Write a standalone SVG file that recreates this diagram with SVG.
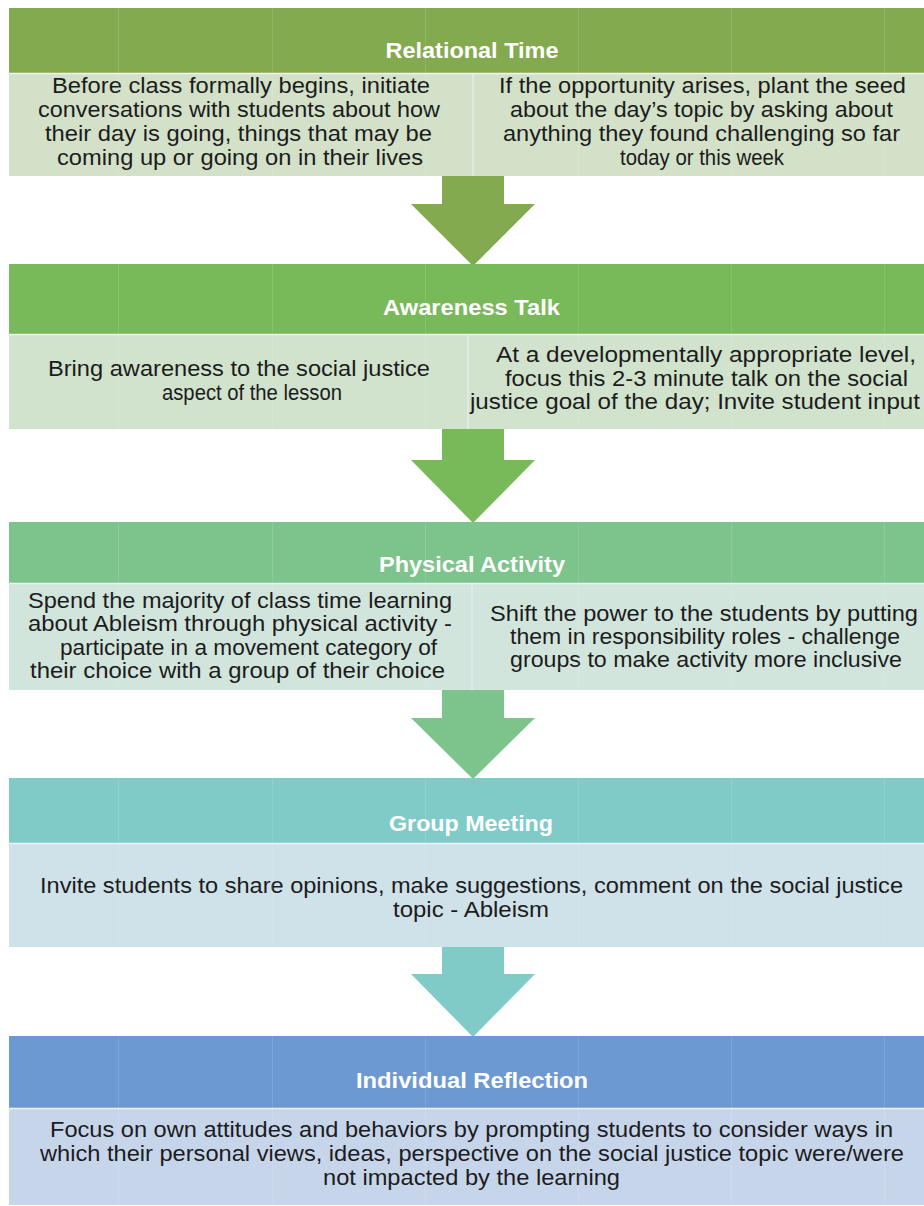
<svg xmlns="http://www.w3.org/2000/svg" width="924" height="1206" viewBox="0 0 924 1206">
  <style>
    .hd { font-family: "Liberation Sans", Arial, sans-serif; font-size: 22px; font-weight: bold; fill: #ffffff; text-anchor: middle; }
    .tx { font-family: "Liberation Sans", Arial, sans-serif; font-size: 22px; fill: #1c1c1c; text-anchor: middle; }
    .grid { stroke: #ffffff; stroke-opacity: 0.12; stroke-width: 1; }
    .div { stroke: #e4ebf3; stroke-width: 1.5; }
    .sep { stroke: #eef3f7; stroke-width: 1.5; }
  </style>
  <defs>
    <!-- faint table gridlines that run through every band -->
    <g id="gridlines">
      <line class="grid" x1="118.5" y1="0" x2="118.5" y2="1206"/>
      <line class="grid" x1="272.5" y1="0" x2="272.5" y2="1206"/>
      <line class="grid" x1="425.5" y1="0" x2="425.5" y2="1206"/>
      <line class="grid" x1="578.5" y1="0" x2="578.5" y2="1206"/>
      <line class="grid" x1="731.5" y1="0" x2="731.5" y2="1206"/>
      <line class="grid" x1="884.5" y1="0" x2="884.5" y2="1206"/>
    </g>
    <clipPath id="bands">
      <rect x="9" y="8" width="915" height="168"/>
      <rect x="9" y="264" width="915" height="165"/>
      <rect x="9" y="522" width="915" height="168"/>
      <rect x="9" y="778" width="915" height="169"/>
      <rect x="9" y="1036" width="915" height="169"/>
    </clipPath>
  </defs>

  <rect width="924" height="1206" fill="#ffffff"/>

  <!-- connectors: block arrows between stages -->
  <g id="connectors">
    <polygon fill="#84aa4f" points="442,176 504,176 504,204 535,204 473,266 411,204 442,204"/>
    <polygon fill="#78b95a" points="442,429 504,429 504,460 535,460 473,523 411,460 442,460"/>
    <polygon fill="#7dc48c" points="442,690 504,690 504,718 535,718 473,779 411,718 442,718"/>
    <polygon fill="#80cbc8" points="442,947 504,947 504,974 535,974 473,1037 411,974 442,974"/>
  </g>

  <!-- stage 1 -->
  <g id="relational-time">
    <rect x="9" y="8" width="915" height="65" fill="#84aa4f"/>
    <rect x="9" y="73" width="915" height="103" fill="#d3e1c9"/>
    <line class="sep" x1="9" y1="73.5" x2="924" y2="73.5"/>
    <line class="div" x1="473" y1="74" x2="473" y2="176"/>
    <text class="hd" x="472" y="58" textLength="173" lengthAdjust="spacingAndGlyphs">Relational Time</text>
    <text class="tx" x="241" y="93" textLength="378" lengthAdjust="spacingAndGlyphs">Before class formally begins, initiate</text>
    <text class="tx" x="239" y="117" textLength="402" lengthAdjust="spacingAndGlyphs">conversations with students about how</text>
    <text class="tx" x="238.5" y="141" textLength="387" lengthAdjust="spacingAndGlyphs">their day is going, things that may be</text>
    <text class="tx" x="240" y="165" textLength="366" lengthAdjust="spacingAndGlyphs">coming up or going on in their lives</text>
    <text class="tx" x="702.5" y="93" textLength="407" lengthAdjust="spacingAndGlyphs">If the opportunity arises, plant the seed</text>
    <text class="tx" x="701.5" y="117" textLength="383" lengthAdjust="spacingAndGlyphs">about the day’s topic by asking about</text>
    <text class="tx" x="701.5" y="141" textLength="397" lengthAdjust="spacingAndGlyphs">anything they found challenging so far</text>
    <text class="tx" x="702" y="165" textLength="164" lengthAdjust="spacingAndGlyphs">today or this week</text>
  </g>

  <!-- stage 2 -->
  <g id="awareness-talk">
    <rect x="9" y="264" width="915" height="70" fill="#78b95a"/>
    <rect x="9" y="334" width="915" height="95" fill="#d1e3cd"/>
    <line class="sep" x1="9" y1="334.5" x2="924" y2="334.5"/>
    <line class="div" x1="468" y1="335" x2="468" y2="429"/>
    <text class="hd" x="471.5" y="315" textLength="177" lengthAdjust="spacingAndGlyphs">Awareness Talk</text>
    <text class="tx" x="239" y="376" textLength="382" lengthAdjust="spacingAndGlyphs">Bring awareness to the social justice</text>
    <text class="tx" x="252" y="400" textLength="180" lengthAdjust="spacingAndGlyphs">aspect of the lesson</text>
    <text class="tx" x="706" y="362" textLength="420" lengthAdjust="spacingAndGlyphs">At a developmentally appropriate level,</text>
    <text class="tx" x="706.5" y="386" textLength="403" lengthAdjust="spacingAndGlyphs">focus this 2-3 minute talk on the social</text>
    <text class="tx" x="695" y="409" textLength="450" lengthAdjust="spacingAndGlyphs">justice goal of the day; Invite student input</text>
  </g>

  <!-- stage 3 -->
  <g id="physical-activity">
    <rect x="9" y="522" width="915" height="61" fill="#7dc48c"/>
    <rect x="9" y="583" width="915" height="107" fill="#d2e5dc"/>
    <line class="sep" x1="9" y1="583.5" x2="924" y2="583.5"/>
    <line class="div" x1="472" y1="584" x2="472" y2="690"/>
    <text class="hd" x="472" y="572" textLength="186" lengthAdjust="spacingAndGlyphs">Physical Activity</text>
    <text class="tx" x="240" y="608" textLength="424" lengthAdjust="spacingAndGlyphs">Spend the majority of class time learning</text>
    <text class="tx" x="240" y="631" textLength="424" lengthAdjust="spacingAndGlyphs">about Ableism through physical activity -</text>
    <text class="tx" x="248.5" y="655" textLength="377" lengthAdjust="spacingAndGlyphs">participate in a movement category of</text>
    <text class="tx" x="237.5" y="678" textLength="415" lengthAdjust="spacingAndGlyphs">their choice with a group of their choice</text>
    <text class="tx" x="704" y="621" textLength="428" lengthAdjust="spacingAndGlyphs">Shift the power to the students by putting</text>
    <text class="tx" x="705" y="644" textLength="390" lengthAdjust="spacingAndGlyphs">them in responsibility roles - challenge</text>
    <text class="tx" x="706" y="667" textLength="392" lengthAdjust="spacingAndGlyphs">groups to make activity more inclusive</text>
  </g>

  <!-- stage 4 -->
  <g id="group-meeting">
    <rect x="9" y="778" width="915" height="65" fill="#80cbc8"/>
    <rect x="9" y="843" width="915" height="104" fill="#cfe1e9"/>
    <line class="sep" x1="9" y1="843.5" x2="924" y2="843.5"/>
    <text class="hd" x="471" y="831" textLength="164" lengthAdjust="spacingAndGlyphs">Group Meeting</text>
    <text class="tx" x="471.5" y="893" textLength="863" lengthAdjust="spacingAndGlyphs">Invite students to share opinions, make suggestions, comment on the social justice</text>
    <text class="tx" x="471" y="917" textLength="156" lengthAdjust="spacingAndGlyphs">topic - Ableism</text>
  </g>

  <!-- stage 5 -->
  <g id="individual-reflection">
    <rect x="9" y="1036" width="915" height="72" fill="#6d99d2"/>
    <rect x="9" y="1108" width="915" height="97" fill="#c7d5eb"/>
    <line class="sep" x1="9" y1="1108.5" x2="924" y2="1108.5"/>
    <text class="hd" x="472" y="1088" textLength="232" lengthAdjust="spacingAndGlyphs">Individual Reflection</text>
    <text class="tx" x="471.5" y="1137" textLength="843" lengthAdjust="spacingAndGlyphs">Focus on own attitudes and behaviors by prompting students to consider ways in</text>
    <text class="tx" x="472" y="1161" textLength="864" lengthAdjust="spacingAndGlyphs">which their personal views, ideas, perspective on the social justice topic were/were</text>
    <text class="tx" x="471.5" y="1185" textLength="297" lengthAdjust="spacingAndGlyphs">not impacted by the learning</text>
  </g>

  <g clip-path="url(#bands)">
    <use href="#gridlines"/>
  </g>
</svg>
